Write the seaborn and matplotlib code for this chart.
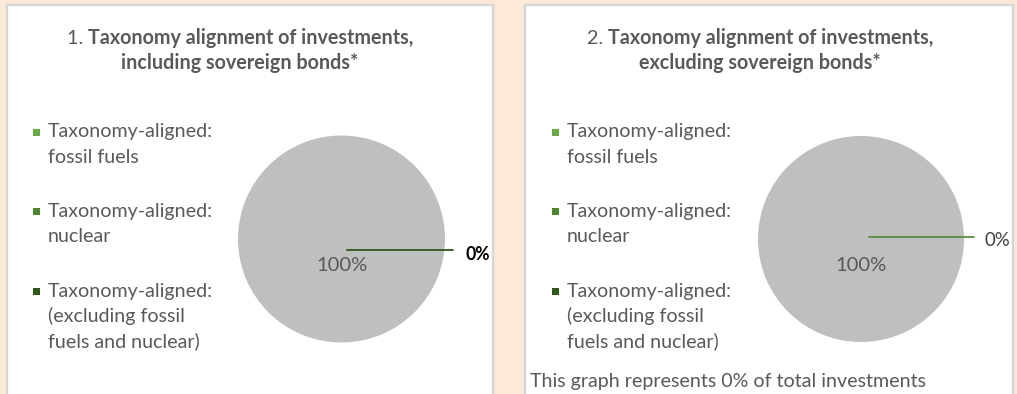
import matplotlib
matplotlib.use("Agg")
import matplotlib.pyplot as plt
from matplotlib.patches import Rectangle
import seaborn as sns

# ---- data -------------------------------------------------------------
categories = [
    "Taxonomy-aligned:\nfossil fuels",
    "Taxonomy-aligned:\nnuclear",
    "Taxonomy-aligned:\n(excluding fossil\nfuels and nuclear)",
    "Non Taxonomy-aligned",
]
incl_sovereign = [0, 0, 0, 100]
excl_sovereign = [0, 0, 0, 100]
panel_titles = [
    ("1. ", "Taxonomy alignment of investments,", "including sovereign bonds*"),
    ("2. ", "Taxonomy alignment of investments,", "excluding sovereign bonds*"),
]
footer = "This graph represents 0% of total investments"

slice_colors = ["#6AAB45", "#4C862E", "#2E5A1C", "#BFBFBF"]
leader_colors = ["#2E5A1C", "#5B8A3E"]

# ---- style ------------------------------------------------------------
sns.set_theme(style="white")
plt.rcParams["font.family"] = ["Lato", "DejaVu Sans"]

W, H = 1017, 394
fig = plt.figure(figsize=(W / 100, H / 100), dpi=100)
fig.patch.set_facecolor("#FCE9D8")

TEXT = "#595959"


def fx(x):
    return x / W


def fy(y):
    return 1 - y / H


# white panels with a light grey frame, kept behind the pie axes
for left, right in [(7, 493), (525, 1013)]:
    fig.patches.append(Rectangle((fx(left), fy(400)), fx(right - left), (400 - 5) / H,
                                 transform=fig.transFigure, facecolor="white",
                                 edgecolor="#D6D6D6", linewidth=1.6, zorder=-2))

renderer = fig.canvas.get_renderer()


def draw_title(cx, parts):
    num, bold1, bold2 = parts
    t_num = fig.text(0, fy(43.5), num, fontsize=14.2, color=TEXT, ha="left", va="baseline")
    t_b1 = fig.text(0, fy(43.5), bold1, fontsize=14.2, color=TEXT, fontweight="bold",
                    ha="left", va="baseline")
    w_num = t_num.get_window_extent(renderer).width
    w_b1 = t_b1.get_window_extent(renderer).width
    start = cx - (w_num + w_b1) / 2
    t_num.set_x(fx(start))
    t_b1.set_x(fx(start + w_num))
    fig.text(fx(cx), fy(69), bold2, fontsize=14.2, color=TEXT, fontweight="bold",
             ha="center", va="baseline")


def draw_legend(x_marker, x_text):
    first_baselines = [137.5, 217.3, 296.7]
    for label, color, base in zip(categories[:3], slice_colors[:3], first_baselines):
        fig.patches.append(Rectangle((fx(x_marker - 3.5), fy(base - 2)), 7 / W, 7 / H,
                                     transform=fig.transFigure, facecolor=color,
                                     edgecolor="none", zorder=3))
        for i, line in enumerate(label.split("\n")):
            fig.text(fx(x_text), fy(base + 25 * i), line, fontsize=14.1, color=TEXT,
                     ha="left", va="baseline")


def draw_pie(cx, cy, r, values, leader_y, leader_x0, leader_x1, label_dy,
             lead_color, zero_kw):
    ax = fig.add_axes([fx(cx - r), fy(cy + r), 2 * r / W, 2 * r / H])
    ax.set_zorder(1)
    ax.patch.set_visible(False)
    total = sum(values)
    wedges, _, autotexts = ax.pie(
        values, colors=slice_colors, startangle=90, counterclock=False,
        autopct=lambda p: f"{p:.0f}%" if p > 0 else "",
        pctdistance=0.24, wedgeprops=dict(linewidth=0),
        textprops=dict(color=TEXT, fontsize=14.5),
    )
    ax.set_xlim(-1, 1)
    ax.set_ylim(-1, 1)
    ax.set_aspect("equal")
    ax.axis("off")
    for t in autotexts:
        t.set_va("baseline")
        x, y = t.get_position()
        t.set_position((x, y - 0.07))
    # label for the empty taxonomy-aligned share with its leader line
    share = 100 * values[0] / total
    ax.plot([leader_x0, leader_x1], [leader_y, leader_y], color=lead_color,
            linewidth=1.3, clip_on=False)
    ax.text(1.20, leader_y + label_dy, f"{share:.0f}%", ha="left", va="baseline",
            clip_on=False, **zero_kw)


draw_title(240, panel_titles[0])
draw_title(760, panel_titles[1])
draw_legend(36, 48)
draw_legend(555.5, 567)

draw_pie(341.5, 239, 103.5, incl_sovereign, -0.106, 0.05, 1.08, -0.10,
         leader_colors[0], dict(fontsize=12.7, fontweight="bold", color="black"))
draw_pie(861, 239, 103, excl_sovereign, 0.02, 0.08, 1.10, -0.09,
         leader_colors[1], dict(fontsize=13.4, color="#404040"))

fig.text(fx(530), fy(386.7), footer, fontsize=14.1, color=TEXT, ha="left", va="baseline")

fig.savefig("out.png", dpi=100, facecolor=fig.get_facecolor())
